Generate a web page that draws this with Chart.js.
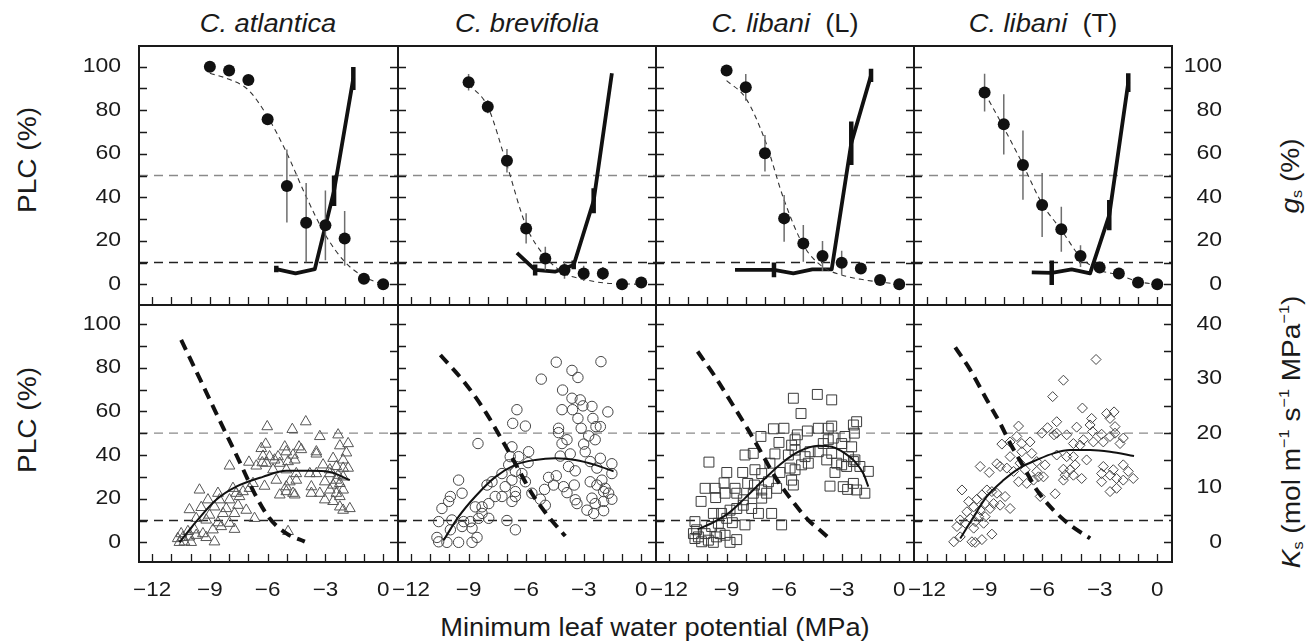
<!DOCTYPE html>
<html lang="en">
<head>
<meta charset="UTF-8">
<title>PLC, gs and Ks against minimum leaf water potential</title>
<script src="https://cdn.jsdelivr.net/npm/chart.js"></script>
<style>
    body {
        margin: 0;
        background: #ffffff;
        font-family: "Liberation Sans", Arial, sans-serif;
        color: #1a1a1a;
    }
    #wrap {
        position: relative;
        width: 1310px;
        height: 643px;
        overflow: hidden;
    }
    #wrap canvas {
        position: absolute;
        left: 0;
        top: 0;
    }
    .lbl {
        position: absolute;
        white-space: nowrap;
        font-size: 26px;
        line-height: 1;
    }
    .title { transform: translate(-50%, -50%) scaleX(1.05); }
    .vert { transform: translate(-50%, -50%) rotate(-90deg) scaleX(1.08); }
    .lbl sub { font-size: 15px; vertical-align: -3px; }
    .lbl sup { font-size: 15px; vertical-align: 11px; }
</style>
</head>
<body>
<div id="wrap">
    <div class="lbl title" style="left:268px; top:23px"><i>C. atlantica</i></div>
    <div class="lbl title" style="left:527px; top:23px"><i>C. brevifolia</i></div>
    <div class="lbl title" style="left:785px; top:23px"><i>C. libani</i>&nbsp; (L)</div>
    <div class="lbl title" style="left:1043px; top:23px"><i>C. libani</i>&nbsp; (T)</div>
    <div class="lbl title" style="left:655px; top:627px">Minimum leaf water potential (MPa)</div>
    <div class="lbl vert" style="left:27px; top:160px">PLC (%)</div>
    <div class="lbl vert" style="left:27px; top:420px">PLC (%)</div>
    <div class="lbl vert" style="left:1290px; top:176px"><i>g</i><sub>s</sub> (%)</div>
    <div class="lbl vert" style="left:1290px; top:432px"><i>K</i><sub>s</sub> (mol m<sup>&minus;1</sup> s<sup>&minus;1</sup> MPa<sup>&minus;1</sup>)</div>
</div>

<script>
    // ---- data ----
    const xMinorTicks = [-12, -11, -10, -9, -8, -7, -6, -5, -4, -3, -2, -1, 0];
    const xTickLabels = [-12, -9, -6, -3, 0];
    const pctMinorTicks = [0, 10, 20, 30, 40, 50, 60, 70, 80, 90, 100];
    const pctTickLabels = [0, 20, 40, 60, 80, 100];
    const ksMinorTicks = [0, 5, 10, 15, 20, 25, 30, 35, 40];
    const ksTickLabels = [0, 10, 20, 30, 40];
    const thresholds = [50, 10];

    // top row: PLC class means (filled circles) at these water potentials
    const psiClasses = [-9, -8, -7, -6, -5, -4, -3, -2, -1, 0];
    const atlanticaPlc = [100, 98.2, 93.9, 75.8, 45.2, 28.3, 27.1, 21.1, 2.6, 0];
    const atlanticaPlcErr = [0, 0, 0, 2.5, 16.8, 18.2, 16, 12.6, 0, 0];
    const brevifoliaPlc = [92.8, 81.6, 56.8, 25.7, 11.9, 6.6, 5.0, 5.0, 0, 0.8];
    const brevifoliaPlcErr = [3.8, 3, 5.4, 6.9, 5.4, 4, 3.5, 3, 0, 0];
    const libaniLPlc = [98.2, 90.5, 60.2, 30.3, 18.8, 13.0, 9.9, 7.3, 2.0, 0];
    const libaniLPlcErr = [0, 6.1, 8.4, 10.7, 8.4, 6.9, 5.5, 0, 0, 0];
    const libaniTPlc = [88.1, 73.5, 54.8, 36.4, 25.3, 13.0, 7.7, 5.0, 0.8, 0];
    const libaniTPlcErr = [8.7, 13.8, 15.9, 14.7, 10.3, 5, 0, 0, 0, 0];

    // top row: fitted vulnerability curves (thin dashed)
    const atlanticaPlcFit = [[-9, 97], [-8, 94.2], [-7, 89.3], [-6, 77], [-5, 60.2], [-4, 40.3], [-3, 22.7], [-2, 10.4], [-1, 3.5], [0, 0]];
    const brevifoliaPlcFit = [[-9, 92], [-8, 81.6], [-7, 54.8], [-6, 26.8], [-5, 12.7], [-4, 5], [-3, 2.3], [-2, 0.7], [0, 0]];
    const libaniLPlcFit = [[-9, 93.6], [-8, 85.5], [-7, 66.3], [-6, 38.7], [-5, 18], [-4, 8.1], [-3, 4.3], [-2, 2.3], [0, 0]];
    const libaniTPlcFit = [[-9, 88], [-8, 72], [-7, 55], [-6, 37], [-5, 25], [-4, 12.5], [-3, 6.5], [-2, 4.3], [-1, 1.2], [0, 0]];

    // top row: stomatal conductance (thick solid), [psi, gs, error]
    const atlanticaGs = [[-5.55, 7, 1.5], [-4.55, 5, 0], [-3.55, 7, 0], [-2.55, 43, 7], [-1.55, 94.6, 5.3]];
    const brevifoliaGs = [[-6.48, 14.5, 0], [-5.53, 6.6, 2.5], [-4.5, 5.8, 0], [-3.52, 8.9, 2], [-2.48, 38.4, 5.7], [-1.53, 97, 0]];
    const libaniLGs = [[-8.56, 6.6, 0], [-6.53, 6.6, 3.4], [-5.52, 5.0, 0], [-4.53, 6.9, 0], [-3.52, 6.9, 0], [-2.5, 64.8, 10], [-1.47, 96, 3]];
    const libaniTGs = [[-6.54, 5.5, 0], [-5.5, 5.3, 5.6], [-4.46, 6.9, 0], [-3.5, 5, 0], [-2.5, 31.8, 6.9], [-1.51, 92.7, 4.3]];

    // bottom row: PLC of sampled branches (thick dashed)
    const atlanticaPlcBranch = [[-10.49, 92.7], [-9.45, 73.6], [-8.5, 56.0], [-7.46, 37.0], [-6.68, 22.4], [-5.9, 11.0], [-5.03, 4.1], [-4.07, 0.3]];
    const brevifoliaPlcBranch = [[-10.47, 85.8], [-9.17, 72.8], [-8.13, 59.9], [-7.26, 46.9], [-6.57, 36.2], [-5.7, 22.4], [-4.83, 11.8], [-3.96, 2.9]];
    const libaniLPlcBranch = [[-10.51, 87.4], [-9.6, 75.9], [-8.73, 63.7], [-7.87, 51.5], [-7.17, 40.8], [-6.48, 30.1], [-5.61, 19.4], [-4.74, 10.2], [-4.04, 4.9], [-3.56, 1.1]];
    const libaniTPlcBranch = [[-10.53, 89.3], [-9.75, 79.0], [-8.88, 65.2], [-8.19, 54.5], [-7.67, 45.4], [-6.97, 34.7], [-6.28, 24.0], [-5.41, 14.8], [-4.54, 7.9], [-3.5, 1.8]];

    // bottom row: fitted Ks curves (thin solid)
    const atlanticaKsFit = [[-10.58, 0], [-9.71, 3.8], [-8.67, 7.8], [-7.63, 10.2], [-6.25, 12], [-5.03, 13.1], [-3.82, 13.1], [-2.78, 12.9], [-1.73, 11.4]];
    const brevifoliaKsFit = [[-10.3, 0.4], [-9.52, 4.7], [-8.65, 8.4], [-7.6, 12.0], [-6.57, 14.2], [-5.52, 15.1], [-4.48, 15.4], [-3.44, 15.1], [-2.4, 14.2], [-1.44, 13.0]];
    const libaniLKsFit = [[-10.51, 2.4], [-9.78, 3.5], [-8.91, 5.3], [-8.04, 8.1], [-7.0, 11.7], [-6.13, 14.5], [-5.26, 16.6], [-4.22, 17.7], [-3.52, 17.5], [-2.83, 16.3], [-2.31, 14.8], [-1.87, 12.6], [-1.61, 10.2]];
    const libaniTKsFit = [[-10.27, 0.7], [-9.57, 4.7], [-8.88, 8.4], [-8.01, 11.4], [-7.14, 13.7], [-6.28, 15.1], [-5.41, 16.3], [-4.54, 16.9], [-3.5, 16.9], [-2.46, 16.6], [-1.21, 15.8]];

    // bottom row: Ks of single shoots, [psi, Ks]
    const atlanticaKs = [
        [-4.02, 22.1], [-4.72, 20.7], [-6.02, 21.2], [-3.29, 19.4], [-2.34, 19.7], [-1.82, 18.1], [-2.25, 17.7], [-6.1, 18.0],
        [-5.11, 17.5], [-4.37, 17.5], [-3.47, 16.6], [-4.25, 17.0], [-6.33, 17.2], [-5.03, 16.6], [-5.9, 15.7], [-5.46, 15.7],
        [-4.68, 16.0], [-6.24, 15.8], [-3.47, 16.2], [-1.91, 16.4], [-7.98, 14.0], [-6.97, 14.7], [-6.28, 14.6], [-6.07, 14.5],
        [-5.64, 15.1], [-5.37, 14.5], [-4.94, 14.8], [-4.59, 15.1], [-3.12, 14.2], [-2.6, 15.4], [-2.08, 15.1], [-2.43, 13.9],
        [-2.77, 13.3], [-2.08, 13.6], [-1.82, 13.6], [-6.59, 14.0], [-5.72, 13.3], [-5.03, 13.3], [-4.51, 12.6], [-3.81, 12.6],
        [-3.47, 12.6], [-2.77, 12.6], [-2.34, 12.3], [-2.08, 12.0], [-2.43, 11.4], [-5.55, 11.4], [-4.85, 11.1], [-4.51, 11.4],
        [-6.76, 10.8], [-6.16, 10.3], [-6.94, 9.9], [-5.03, 10.2], [-3.73, 10.2], [-3.03, 11.1], [-2.6, 10.5], [-2.25, 10.8],
        [-2.77, 9.6], [-2.08, 9.6], [-2.43, 9.0], [-5.03, 9.3], [-4.68, 9.0], [-5.37, 8.7], [-4.59, 8.7], [-3.73, 9.0],
        [-3.29, 9.0], [-2.25, 8.4], [-2.6, 7.5], [-3.03, 7.8], [-2.25, 6.5], [-1.73, 6.2], [-2.08, 5.9], [-9.54, 9.6],
        [-8.58, 9.0], [-7.8, 9.9], [-7.63, 9.0], [-7.28, 9.3], [-9.1, 7.8], [-8.5, 7.8], [-7.98, 7.8], [-7.46, 8.4],
        [-10.06, 6.0], [-9.45, 6.4], [-8.76, 6.5], [-8.15, 6.2], [-7.54, 6.8], [-7.11, 5.9], [-6.68, 4.4], [-7.72, 5.3],
        [-8.32, 5.3], [-9.02, 5.0], [-9.71, 4.4], [-9.19, 4.1], [-8.58, 3.6], [-7.98, 3.5], [-7.72, 2.4], [-8.41, 2.9],
        [-8.84, 2.3], [-9.36, 1.6], [-9.71, 1.3], [-10.06, 1.0], [-10.4, 0.9], [-10.67, 0.7], [-10.32, 0.1], [-10.58, 0],
        [-9.97, 0], [-8.76, 0.1], [-9.19, 0.9], [-10.14, 2.0], [-4.94, 2.0], [-9.8, 2.3], [-10.49, 1.6]
    ];
    const brevifoliaKs = [
        [-4.43, 33.0], [-2.1, 33.1], [-5.21, 29.9], [-3.61, 31.5], [-3.3, 30.2], [-4.1, 27.9], [-3.61, 26.4], [-3.18, 26.1],
        [-3.04, 25.0], [-2.57, 24.9], [-4.13, 24.3], [-3.58, 24.3], [-6.48, 24.3], [-1.74, 23.9], [-6.7, 21.8], [-6.04, 21.3],
        [-3.3, 22.7], [-2.52, 22.7], [-2.36, 21.2], [-2.13, 21.2], [-4.31, 20.9], [-4.31, 20.1], [-3.13, 20.9], [-2.74, 19.5],
        [-2.4, 18.8], [-4.13, 18.1], [-3.87, 18.8], [-3.0, 18.0], [-8.51, 18.1], [-6.74, 17.5], [-2.92, 16.6], [-3.7, 16.2],
        [-4.22, 15.8], [-2.13, 15.4], [-5.87, 16.6], [-6.83, 15.7], [-6.39, 15.7], [-6.91, 14.2], [-5.9, 14.6], [-3.79, 13.9],
        [-3.44, 13.1], [-2.66, 14.8], [-2.31, 13.6], [-1.53, 14.4], [-1.53, 12.6], [-7.26, 12.6], [-6.56, 13.0], [-6.22, 12.6],
        [-7.78, 11.1], [-8.04, 10.5], [-6.74, 11.4], [-6.04, 11.1], [-4.83, 11.9], [-4.43, 12.2], [-2.66, 11.1], [-2.05, 11.4],
        [-2.31, 10.5], [-1.88, 9.9], [-9.52, 11.4], [-7.09, 10.2], [-6.56, 9.3], [-5.7, 9.0], [-5.04, 9.7], [-4.57, 10.5],
        [-4.05, 10.2], [-3.49, 10.5], [-3.87, 9.1], [-1.96, 9.3], [-1.7, 9.0], [-1.53, 7.9], [-9.34, 9.0], [-9.95, 8.4],
        [-10.04, 7.5], [-10.39, 6.2], [-8.65, 6.5], [-8.3, 6.5], [-7.95, 7.1], [-7.61, 8.4], [-7.26, 8.4], [-6.74, 7.5],
        [-6.56, 8.4], [-5.26, 7.9], [-5.0, 6.8], [-3.44, 7.8], [-3.35, 7.1], [-2.57, 8.1], [-2.4, 7.1], [-1.96, 7.5],
        [-2.83, 5.9], [-2.48, 5.3], [-1.96, 5.8], [-8.3, 5.3], [-8.48, 4.4], [-7.95, 4.4], [-8.91, 3.8], [-9.34, 2.9],
        [-9.87, 4.1], [-10.56, 3.8], [-9.95, 2.3], [-8.82, 2.6], [-7.0, 4.0], [-6.56, 2.3], [-8.56, 0.9], [-10.65, 0.9],
        [-10.56, 0.1], [-10.13, 0], [-9.52, 0], [-8.82, 0], [-9.26, 3.8]
    ];
    const libaniLKs = [
        [-5.52, 26.4], [-4.27, 27.1], [-3.52, 26.1], [-5.12, 23.6], [-2.22, 22.1], [-6.56, 20.8], [-6.01, 20.9], [-4.79, 20.4],
        [-4.22, 20.9], [-3.7, 20.9], [-3.52, 21.3], [-2.39, 21.5], [-2.34, 20.0], [-7.21, 19.4], [-6.27, 18.3], [-5.31, 19.7],
        [-5.43, 18.8], [-5.61, 17.8], [-3.96, 18.1], [-3.7, 18.8], [-3.44, 19.1], [-3.0, 18.1], [-2.83, 19.4], [-2.48, 17.5],
        [-8.04, 16.0], [-7.61, 16.3], [-6.48, 16.2], [-5.78, 16.0], [-5.43, 16.9], [-4.91, 15.7], [-4.65, 16.6], [-4.22, 16.6],
        [-3.78, 15.1], [-3.52, 16.3], [-3.26, 14.5], [-2.65, 15.7], [-2.31, 15.1], [-2.39, 14.8], [-9.92, 14.7], [-8.99, 12.8],
        [-8.16, 12.8], [-7.52, 13.3], [-7.17, 12.6], [-6.74, 14.5], [-6.22, 12.8], [-5.69, 13.6], [-5.43, 13.3], [-5.09, 14.2],
        [-4.74, 14.5], [-3.35, 12.8], [-3.0, 14.2], [-2.74, 13.9], [-2.05, 13.9], [-1.61, 13.0], [-10.12, 9.9], [-9.6, 9.9],
        [-9.13, 10.9], [-8.56, 9.9], [-7.9, 10.8], [-7.55, 10.5], [-7.17, 9.6], [-6.82, 11.1], [-6.39, 9.9], [-5.61, 11.4],
        [-5.52, 10.5], [-3.61, 10.3], [-2.92, 10.2], [-2.69, 9.7], [-2.39, 10.8], [-2.22, 9.6], [-1.79, 9.0], [-10.33, 7.5],
        [-9.57, 8.2], [-9.08, 9.0], [-8.47, 9.0], [-8.13, 7.8], [-7.61, 9.0], [-7.17, 8.1], [-6.91, 9.0], [-7.69, 6.2],
        [-8.13, 6.8], [-8.47, 6.2], [-8.82, 5.9], [-9.26, 5.3], [-9.69, 5.3], [-7.34, 5.3], [-6.65, 5.3], [-6.13, 3.2],
        [-8.99, 4.4], [-8.7, 3.6], [-8.04, 3.2], [-9.43, 3.5], [-9.78, 2.9], [-9.34, 1.6], [-10.65, 3.8], [-10.56, 2.3],
        [-10.47, 1.0], [-10.3, 0.1], [-9.95, 0.4], [-9.52, 1.0], [-9.08, 1.3], [-8.47, 0.5], [-8.82, 0], [-9.69, 0],
        [-10.65, 0.7], [-10.73, 1.6], [-10.12, 1.6]
    ];
    const libaniTKs = [
        [-3.19, 33.5], [-4.89, 29.7], [-5.45, 26.7], [-3.9, 24.6], [-2.64, 23.6], [-2.25, 23.9], [-2.46, 22.7], [-3.42, 22.7],
        [-3.5, 21.5], [-2.2, 21.2], [-7.23, 21.3], [-5.24, 22.1], [-5.72, 21.0], [-4.2, 21.1], [-2.2, 20.0], [-3.37, 20.3],
        [-2.9, 19.8], [-2.46, 19.4], [-1.77, 19.1], [-5.24, 20.0], [-6.02, 20.0], [-5.38, 19.7], [-4.72, 19.7], [-7.32, 19.4],
        [-8.1, 18.0], [-7.67, 18.4], [-7.06, 18.1], [-6.63, 18.4], [-3.85, 18.8], [-4.37, 18.1], [-4.02, 17.8], [-3.33, 18.4],
        [-2.81, 18.4], [-1.94, 18.1], [-7.67, 15.7], [-7.06, 16.6], [-6.54, 16.3], [-6.28, 14.8], [-7.15, 14.5], [-6.89, 13.3],
        [-6.28, 13.0], [-7.49, 13.0], [-8.36, 14.4], [-8.19, 13.9], [-7.84, 13.6], [-9.23, 13.9], [-8.76, 12.8], [-5.85, 14.2],
        [-5.93, 12.0], [-4.89, 13.4], [-4.54, 13.3], [-4.28, 14.2], [-3.68, 15.1], [-4.8, 12.3], [-4.37, 12.3], [-3.94, 11.7],
        [-4.89, 11.4], [-5.24, 16.0], [-4.72, 15.7], [-4.37, 15.7], [-2.81, 13.9], [-2.29, 13.3], [-1.77, 14.2], [-1.51, 13.0],
        [-1.25, 11.7], [-2.9, 12.6], [-2.46, 12.3], [-2.12, 11.7], [-1.77, 11.4], [-2.9, 11.1], [-2.46, 9.3], [-2.12, 9.9],
        [-7.23, 11.1], [-6.8, 10.8], [-6.45, 11.4], [-6.19, 12.0], [-6.1, 8.4], [-5.32, 8.9], [-10.18, 9.6], [-9.4, 7.9],
        [-9.14, 8.7], [-8.88, 9.6], [-8.62, 9.3], [-8.36, 9.0], [-7.93, 8.4], [-7.67, 6.2], [-8.19, 6.8], [-8.53, 7.1],
        [-8.97, 7.1], [-9.83, 7.5], [-9.57, 6.5], [-9.23, 5.9], [-8.71, 6.2], [-9.92, 5.6], [-9.31, 4.7], [-8.97, 4.7],
        [-9.75, 4.4], [-10.27, 4.1], [-10.01, 3.5], [-9.49, 3.8], [-9.05, 3.5], [-10.44, 2.9], [-9.57, 2.6], [-8.62, 1.5],
        [-9.14, 0.5], [-9.66, 0.1], [-9.49, 0], [-10.61, 0.1], [-10.27, 1.0]
    ];

    // ---- layout ----
    const W = 1310, H = 643;
    const colEdges = [139, 398, 656, 914, 1172];
    const rowEdges = [46, 305, 562];
    const xRange = [-12.68, 0.77];
    const yRangeTop = [-9.5, 109.5];
    const yRangeBottom = [-9.0, 108.7];
    const ksPerPlc = 0.4; // right axis: 40 Ks units level with 100 % PLC

    const species = [
        { plc: atlanticaPlc, err: atlanticaPlcErr, fit: atlanticaPlcFit, gs: atlanticaGs,
          branch: atlanticaPlcBranch, ksFit: atlanticaKsFit, ks: atlanticaKs, marker: 'triangle', radius: 6.2, edge: '#555555' },
        { plc: brevifoliaPlc, err: brevifoliaPlcErr, fit: brevifoliaPlcFit, gs: brevifoliaGs,
          branch: brevifoliaPlcBranch, ksFit: brevifoliaKsFit, ks: brevifoliaKs, marker: 'circle', radius: 5.2, edge: '#444444' },
        { plc: libaniLPlc, err: libaniLPlcErr, fit: libaniLPlcFit, gs: libaniLGs,
          branch: libaniLPlcBranch, ksFit: libaniLKsFit, ks: libaniLKs, marker: 'rect', radius: 7, edge: '#3a3a3a' },
        { plc: libaniTPlc, err: libaniTPlcErr, fit: libaniTPlcFit, gs: libaniTGs,
          branch: libaniTPlcBranch, ksFit: libaniTKsFit, ks: libaniTKs, marker: 'rectRot', radius: 5, edge: '#444444' }
    ];

    const toXY = pairs => pairs.map(p => ({ x: p[0], y: p[1] }));

    // vertical error bars as one broken line: low, high, gap
    function errorSegments(xs, ys, es) {
        const out = [];
        xs.forEach((x, i) => {
            if (!es[i]) return;
            out.push({ x: x, y: ys[i] - es[i] }, { x: x, y: ys[i] + es[i] }, { x: x, y: null });
        });
        return out;
    }

    function thresholdSets(yAxisID) {
        return thresholds.map(v => ({
            data: [{ x: xRange[0], y: v }, { x: xRange[1], y: v }],
            showLine: true, pointRadius: 0, borderWidth: 1.4,
            borderColor: v === 50 ? '#8a8a8a' : '#222222',
            borderDash: [9, 6], yAxisID: yAxisID
        }));
    }

    function fmt(v) {
        return v < 0 ? '\u2212' + Math.abs(v) : String(v);
    }

    function stretchText(ctx, text, x, y, sx) {
        ctx.save();
        ctx.translate(x, y);
        ctx.scale(sx, 1);
        ctx.fillText(text, 0, 0);
        ctx.restore();
    }

    // frame, inward ticks and tick labels of one panel
    const panelFrame = {
        id: 'panelFrame',
        afterDatasetsDraw(chart, args, opts) {
            const ctx = chart.ctx;
            const a = chart.chartArea;
            const sx = chart.scales.x;
            const left = chart.scales.y;
            const right = chart.scales[opts.rightAxis];
            ctx.save();
            ctx.strokeStyle = '#1a1a1a';
            ctx.lineWidth = 1.3;
            ctx.beginPath();
            xMinorTicks.forEach(v => {
                const px = Math.round(sx.getPixelForValue(v)) + 0.5;
                ctx.moveTo(px, a.bottom); ctx.lineTo(px, a.bottom - 8);
            });
            pctMinorTicks.forEach(v => {
                const py = Math.round(left.getPixelForValue(v)) + 0.5;
                ctx.moveTo(a.left, py); ctx.lineTo(a.left + 8, py);
            });
            opts.rightTicks.forEach(v => {
                const py = Math.round(right.getPixelForValue(v)) + 0.5;
                ctx.moveTo(a.right, py); ctx.lineTo(a.right - 8, py);
            });
            ctx.stroke();

            ctx.lineWidth = 2;
            ctx.strokeRect(a.left, a.top, a.right - a.left, a.bottom - a.top);

            ctx.fillStyle = '#1a1a1a';
            ctx.font = '20px "Liberation Sans", Arial, sans-serif';
            ctx.textBaseline = 'middle';
            if (opts.leftLabels) {
                ctx.textAlign = 'right';
                pctTickLabels.forEach(v => stretchText(ctx, fmt(v), a.left - 18, left.getPixelForValue(v), 1.15));
            }
            if (opts.rightLabels) {
                ctx.textAlign = 'right';
                opts.rightLabels.forEach(v => stretchText(ctx, fmt(v), a.right + 50, right.getPixelForValue(v), 1.15));
            }
            if (opts.xLabels) {
                ctx.textAlign = 'center';
                xTickLabels.forEach(v => stretchText(ctx, fmt(v), sx.getPixelForValue(v), a.bottom + 28, 1.12));
            }
            ctx.restore();
        }
    };

    function makePanel(col, row, datasets, yRange, rightAxis, rightTicks, rightLabels) {
        const canvas = document.createElement('canvas');
        canvas.width = W;
        canvas.height = H;
        document.getElementById('wrap').appendChild(canvas);
        const scales = {
            x: { type: 'linear', min: xRange[0], max: xRange[1], display: false },
            y: { type: 'linear', min: yRange[0], max: yRange[1], display: false }
        };
        if (rightAxis === 'y2') {
            scales.y2 = { type: 'linear', min: yRange[0] * ksPerPlc, max: yRange[1] * ksPerPlc, display: false };
        }
        new Chart(canvas, {
            type: 'scatter',
            data: { datasets: datasets },
            options: {
                responsive: false,
                animation: false,
                events: [],
                layout: {
                    padding: {
                        left: colEdges[col], right: W - colEdges[col + 1],
                        top: rowEdges[row], bottom: H - rowEdges[row + 1]
                    }
                },
                plugins: {
                    legend: { display: false },
                    tooltip: { enabled: false },
                    panelFrame: {
                        rightAxis: rightAxis,
                        rightTicks: rightTicks,
                        leftLabels: col === 0,
                        rightLabels: col === 3 ? rightLabels : null,
                        xLabels: row === 1
                    }
                },
                scales: scales
            },
            plugins: [panelFrame]
        });
    }

    species.forEach((sp, col) => {
        // top row: PLC curve, gs
        const gsX = sp.gs.map(p => p[0]);
        const gsY = sp.gs.map(p => p[1]);
        const gsE = sp.gs.map(p => p[2]);
        makePanel(col, 0, [
            { data: psiClasses.map((x, i) => ({ x: x, y: sp.plc[i] })),
              pointStyle: 'circle', pointRadius: 6, pointBackgroundColor: '#111111', pointBorderColor: '#111111', pointBorderWidth: 0 },
            { data: errorSegments(psiClasses, sp.plc, sp.err), showLine: true, spanGaps: false,
              pointRadius: 0, borderWidth: 1.5, borderColor: '#6e6e6e' },
            { data: toXY(sp.fit), showLine: true, pointRadius: 0, borderWidth: 1.1,
              borderColor: '#333333', borderDash: [5, 4], cubicInterpolationMode: 'monotone' },
            { data: errorSegments(gsX, gsY, gsE), showLine: true, spanGaps: false,
              pointRadius: 0, borderWidth: 4.5, borderColor: '#111111' },
            { data: toXY(sp.gs), showLine: true, pointRadius: 0, borderWidth: 3.8,
              borderColor: '#111111', borderJoinStyle: 'round' }
        ].concat(thresholdSets('y')), yRangeTop, 'y', pctMinorTicks, pctTickLabels);

        // bottom row: Ks and branch PLC
        makePanel(col, 1, [
            { data: toXY(sp.branch), showLine: true, pointRadius: 0, borderWidth: 4,
              borderColor: '#111111', borderDash: [11, 7], cubicInterpolationMode: 'monotone' },
            { data: toXY(sp.ksFit), showLine: true, pointRadius: 0, borderWidth: 2,
              borderColor: '#111111', cubicInterpolationMode: 'monotone', yAxisID: 'y2' },
            { data: toXY(sp.ks), pointStyle: sp.marker, pointRadius: sp.radius,
              pointBackgroundColor: 'rgba(0,0,0,0)', pointBorderColor: sp.edge, pointBorderWidth: 1, yAxisID: 'y2' }
        ].concat(thresholdSets('y')), yRangeBottom, 'y2', ksMinorTicks, ksTickLabels);
    });
</script>
</body>
</html>
